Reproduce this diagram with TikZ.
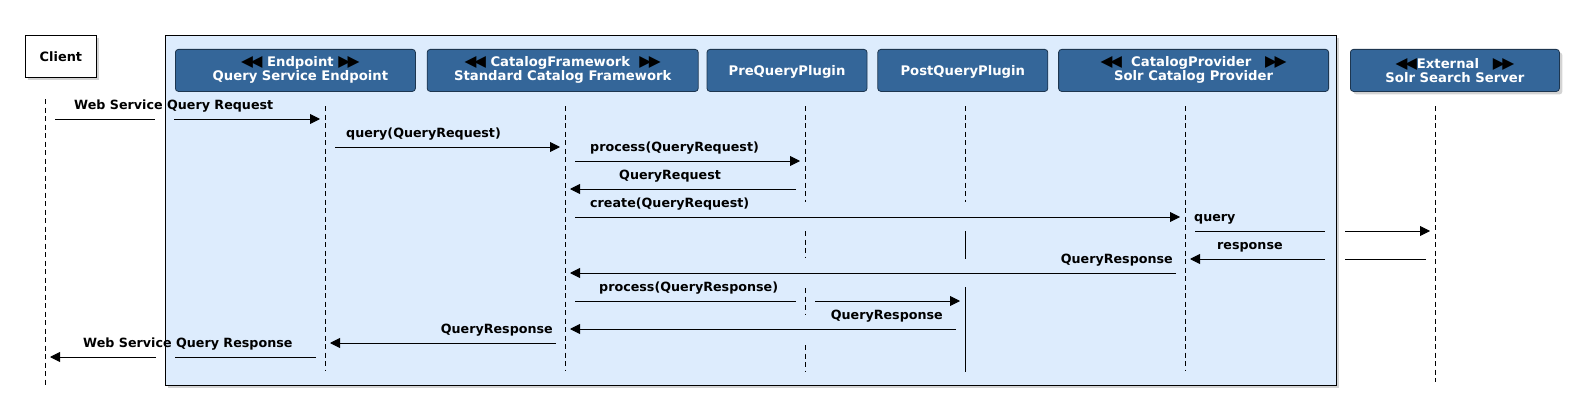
\documentclass[tikz,border=0pt]{standalone}
\usepackage{fontspec}
\setmainfont{DejaVu Sans}
\usepackage{xcolor}
\usetikzlibrary{arrows.meta, positioning, shadows}
\definecolor{headFill} {HTML}{346699}
\definecolor{headLine} {HTML}{1D3650}
\definecolor{frameFill}{HTML}{DDECFD}
\newcommand{\tipL}{{\mdseries\fontsize{15.5}{14}\selectfont\color{black}◀\kern-2.5pt◀}}
\newcommand{\tipR}{{\mdseries\fontsize{15.5}{14}\selectfont\color{black}▶\kern-2.5pt▶}}

\begin{document}
\begin{tikzpicture}[
    x=1pt, y=-1pt,
    actor/.style={draw=black, fill=white, line width=0.8pt, minimum width=71pt,
                  minimum height=42pt, anchor=north west,
                  font=\fontsize{12.9}{14}\selectfont\bfseries,
                  drop shadow={shadow xshift=3pt, shadow yshift=-3pt, opacity=0.35}},
    region/.style={draw=black, fill=frameFill, line width=0.8pt, anchor=north west,
                   inner sep=0pt,
                   drop shadow={shadow xshift=3pt, shadow yshift=-3pt, opacity=0.35}},
    hdr/.style={draw=headLine, fill=headFill, rounded corners=3pt, text=white,
                font=\fontsize{13.2}{14}\selectfont\bfseries, align=center,
                minimum height=42pt, inner sep=0pt, line width=0.8pt},
    life/.style={draw=black, line width=0.8pt, dash pattern=on 5pt off 3.5pt},
    msg/.style={draw=black, line width=0.9pt, -{Triangle[length=10pt, width=10pt]}},
    fwd/.style={msg, shorten <=10pt, shorten >=5pt},
    bwd/.style={msg, shorten <=9pt, shorten >=5pt},
    lbl/.style={inner sep=0pt, font=\fontsize{12.7}{14}\selectfont\bfseries},
  ]
    \useasboundingbox (0,0) rectangle (1580,420);

    % container and actors
    \node[region, minimum width=1171pt, minimum height=350pt] (frame) at (165,35) {};
    \node[actor] (client) at (25,35) {Client};

    \node[hdr, minimum width=240pt, anchor=north west] (epBox) at (175,49)
        {\hspace*{10pt}\tipL\ Endpoint \tipR\\\hspace*{10pt}Query Service Endpoint};
    \node[hdr, minimum width=271pt, right=11pt of epBox] (cfBox)
        {\tipL\ CatalogFramework\ \ \tipR\\Standard Catalog Framework};
    \node[hdr, minimum width=160pt, right=8pt of cfBox] (preBox)
        {\mbox{}\\PreQueryPlugin};
    \node[hdr, minimum width=170pt, right=10pt of preBox] (postBox)
        {\mbox{}\\PostQueryPlugin};
    \node[hdr, minimum width=270pt, right=10pt of postBox] (cpBox)
        {\tipL\ \ CatalogProvider\ \ \ \tipR\\Solr Catalog Provider};
    \node[hdr, minimum width=209pt, right=21pt of cpBox,
          drop shadow={shadow xshift=3pt, shadow yshift=-3pt, opacity=0.35}] (extBox)
        {\tipL External\ \ \ \tipR\\Solr Search Server};

    % lifelines
    \foreach \n/\x/\a/\b in {cl/45/99/385, ep/325/106/370, cf/565/106/370,
                             cp/1185/106/370, ext/1435/106/382}{
      \coordinate (\n) at (\x,\a);
      \coordinate (\n-end) at (\x,\b);
      \draw[life] (\n) -- (\n-end);
    }
    \coordinate (pre) at (805,106);
    \coordinate (post) at (965,106);
    \foreach \a/\b in {106/202, 231/258, 288/315, 345/371}
      \draw[life] (pre |- 0,\a) -- (pre |- 0,\b);
    \draw[life] (post) -- (post |- 0,202);
    \draw[line width=0.8pt] (post |- 0,231) -- (post |- 0,259);
    \draw[line width=0.8pt] (post |- 0,287) -- (post |- 0,372);

    % message rows
    \foreach \i/\y in {1/119, 2/147, 3/161, 4/189, 5/217, 6/231,
                       7/259, 8/273, 9/301, 10/329, 11/343, 12/357}
      \coordinate (r\i) at (0,\y);

    \draw[fwd, dash pattern=on 100pt off 19pt on 600pt] (cl |- r1) -- (ep |- r1);
    \draw[fwd] (ep |- r2) -- (cf |- r2);
    \draw[fwd] (cf |- r3) -- (pre |- r3);
    \draw[bwd] (pre |- r4) -- (cf |- r4);
    \draw[fwd] (cf |- r5) -- (cp |- r5);
    \draw[fwd, dash pattern=on 130pt off 20pt on 600pt] (cp |- r6) -- (ext |- r6);
    \draw[bwd, dash pattern=on 81pt off 20pt on 600pt] (ext |- r7) -- (cp |- r7);
    \draw[bwd] (cp |- r8) -- (cf |- r8);
    \draw[fwd, dash pattern=on 221pt off 19pt on 600pt] (cf |- r9) -- (post |- r9);
    \draw[bwd] (post |- r10) -- (cf |- r10);
    \draw[bwd] (cf |- r11) -- (ep |- r11);
    \draw[bwd, dash pattern=on 141pt off 19pt on 600pt] (ep |- r12) -- (cl |- r12);

    % labels
    \node[lbl, anchor=base west] (m1) at (74,109.5) {Web Service Query Request};
    \node[lbl, anchor=base west] (m2) at (346,137.5) {query(QueryRequest)};
    \node[lbl, anchor=base west] (m3) at (590,151.5) {process(QueryRequest)};
    \node[lbl, anchor=base west] (m4) at (619,179.5) {QueryRequest};
    \node[lbl, anchor=base west] (m5) at (590,207.5) {create(QueryRequest)};
    \node[lbl, anchor=base west] (m6) at (1194,221.5) {query};
    \node[lbl, anchor=base west] (m7) at (1217,249.5) {response};
    \node[lbl, anchor=base east] (m8) at (1173,263.5) {QueryResponse};
    \node[lbl, anchor=base west] (m9) at (599,291.5) {process(QueryResponse)};
    \node[lbl, anchor=base east] (m10) at (943,319.5) {QueryResponse};
    \node[lbl, anchor=base east] (m11) at (553,333.5) {QueryResponse};
    \node[lbl, anchor=base west] (m12) at (83,347.5) {Web Service Query Response};
  \end{tikzpicture}
\end{document}
